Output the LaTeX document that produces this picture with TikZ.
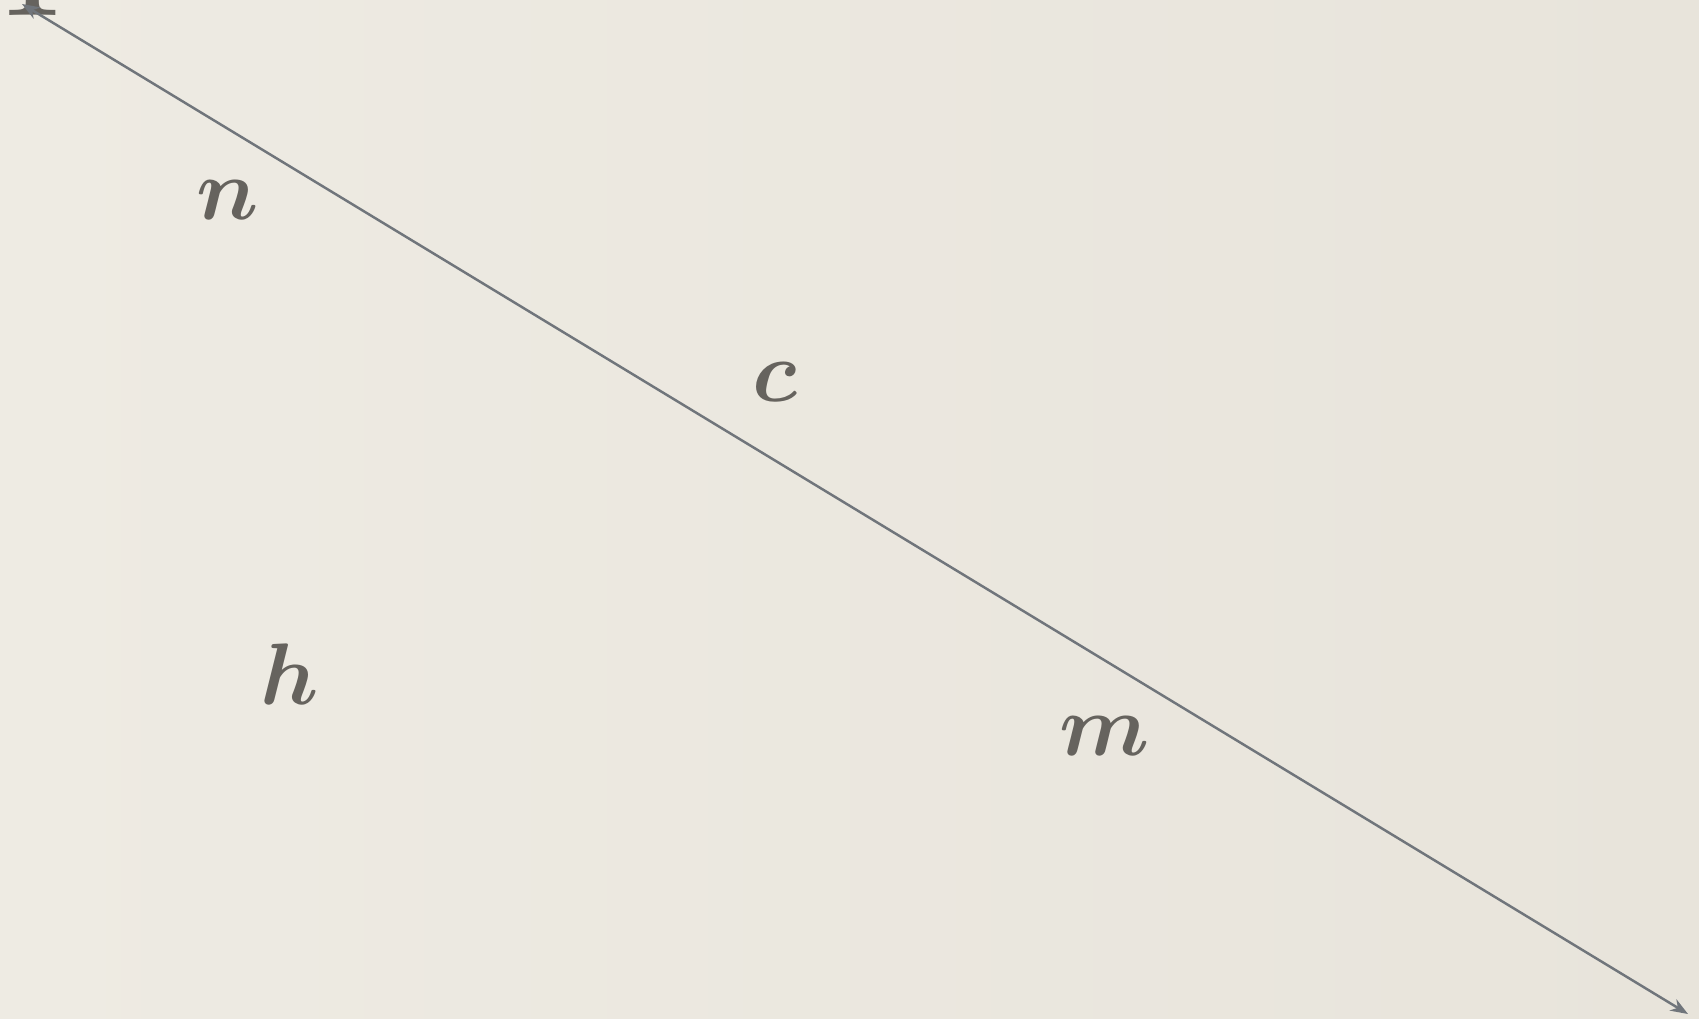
\documentclass[tikz,border=0pt]{standalone}
\usetikzlibrary{arrows.meta}
\definecolor{paper}{RGB}{238,235,227}
\definecolor{paperdark}{RGB}{232,228,219}
\definecolor{ink}{RGB}{102,99,94}
\definecolor{rule}{RGB}{112,117,123}
\begin{document}
\begin{tikzpicture}[x=0.1mm, y=-0.1mm, every node/.style={text=ink, inner sep=0pt, font=\fontsize{33}{40}\selectfont\boldmath}]
            \shade[left color=paper, right color=paperdark] (0,0) rectangle (1699,1018);
            \useasboundingbox (0,0) rectangle (1699,1018);
            \node (top) at (33,-52) {\fontsize{56}{64}\selectfont I};
            \coordinate (A) at (22,4);
            \coordinate (B) at (1688,1014);
            \node (n) at (228,200) {$n$};
            \node (c) at (775,382) {$c$};
            \node (h) at (290,674) {$h$};
            \node (m) at (1105,736) {$m$};
            \draw[rule, line width=0.7pt, {Stealth[length=5pt]}-{Stealth[length=5pt]}] (A) -- (B);
        \end{tikzpicture}
\end{document}
